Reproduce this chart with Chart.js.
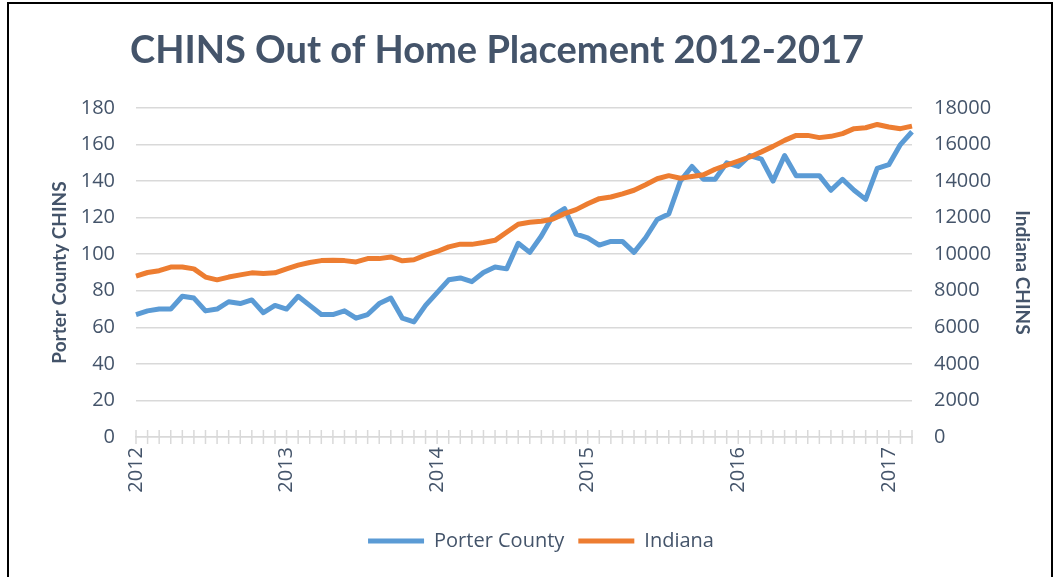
<!DOCTYPE html>
<html>
<head>
<meta charset="utf-8">
<script src="https://cdn.jsdelivr.net/npm/chart.js@4"></script>
<style>
  html, body { margin: 0; padding: 0; background: #fff; overflow: hidden; }
  #frame { position: absolute; left: 7px; top: 2px; width: 1042px; height: 600px; border: 2px solid #000; }
  #wrap { position: absolute; left: 0; top: 0; width: 1057px; height: 577px; }
</style>
</head>
<body>
<div id="frame"></div>
<div id="wrap"><canvas id="chins" width="1057" height="577"></canvas></div>
<script>
// year labels shown every 13 categories on the x axis
const yearLabels = ["2012", "2013", "2014", "2015", "2016", "2017"];
const labelEvery = 13;

// Porter County CHINS (left axis)
const porterCounty = [67, 69, 70, 70, 77, 76, 69, 70, 74, 73, 75, 68, 72, 70, 77, 72, 67, 67, 69, 65,
  67, 73, 76, 65, 63, 72, 79, 86, 87, 85, 90, 93, 92, 106, 101, 110, 121, 125, 111, 109,
  105, 107, 107, 101, 109, 119, 122, 140, 148, 141, 141, 150, 148, 154, 152, 140, 154, 143, 143, 143,
  135, 141, 135, 130, 147, 149, 160, 167];

// Indiana CHINS (right axis)
const indiana = [8800, 9000, 9100, 9300, 9300, 9200, 8750, 8600, 8750, 8870, 8980, 8950, 8980, 9200, 9400, 9550, 9650, 9670, 9650, 9580,
  9760, 9760, 9850, 9640, 9700, 9950, 10150, 10400, 10550, 10540, 10640, 10760, 11200, 11640, 11750, 11800, 11930, 12220, 12440, 12760,
  13040, 13130, 13300, 13500, 13800, 14130, 14300, 14160, 14250, 14350, 14650, 14880, 15100, 15320, 15600, 15900, 16230, 16500, 16500, 16380,
  16450, 16600, 16870, 16920, 17100, 16960, 16870, 17010];

const categories = porterCounty.map((v, i) => (i % labelEvery === 0 ? yearLabels[i / labelEvery] : ""));

const chartTitle = "CHINS Out of Home Placement 2012-2017";
const textColor = "#44546A";
const gridColor = "#D9D9D9";

// Excel-style "cross" tick marks on the category axis
const crossTicks = {
  id: "crossTicks",
  beforeDatasetsDraw(chart) {
    const x = chart.scales.x;
    const y0 = chart.chartArea.bottom;
    const ctx = chart.ctx;
    ctx.save();
    ctx.strokeStyle = gridColor;
    ctx.lineWidth = 1.5;
    for (let i = 0; i < x.ticks.length; i++) {
      const px = x.getPixelForTick(i);
      ctx.beginPath();
      ctx.moveTo(px, y0 - 7);
      ctx.lineTo(px, y0 + 7);
      ctx.stroke();
    }
    ctx.restore();
  }
};

// title sits a little left of centre, like the Excel original
const offsetTitle = {
  id: "offsetTitle",
  afterDraw(chart) {
    const ctx = chart.ctx;
    ctx.save();
    ctx.fillStyle = textColor;
    ctx.font = "bold 38px Lato";
    ctx.textAlign = "center";
    ctx.textBaseline = "middle";
    ctx.fillText(chartTitle, 497, 51);
    ctx.restore();
  }
};

new Chart("chins", {
  type: "line",
  data: {
    labels: categories,
    datasets: [{
      label: "Porter County",
      data: porterCounty,
      yAxisID: "y",
      borderColor: "#5B9BD5",
      backgroundColor: "#5B9BD5",
      borderWidth: 5,
      pointRadius: 0,
      tension: 0,
      borderJoinStyle: "round",
      order: 1
    }, {
      label: "Indiana",
      data: indiana,
      yAxisID: "y1",
      borderColor: "#ED7D31",
      backgroundColor: "#ED7D31",
      borderWidth: 5,
      pointRadius: 0,
      tension: 0,
      borderJoinStyle: "round",
      order: 0
    }]
  },
  options: {
    responsive: false,
    animation: false,
    layout: { padding: { left: 48, right: 23, top: 108, bottom: 16 } },
    plugins: {
      title: { display: false },
      legend: {
        position: "bottom",
        labels: {
          color: textColor,
          font: { family: "Open Sans", size: 20 },
          boxWidth: 56,
          boxHeight: 5,
          padding: 14,
          sort: (a, b) => a.datasetIndex - b.datasetIndex,
          generateLabels(chart) {
            const items = Chart.defaults.plugins.legend.labels.generateLabels(chart);
            items.forEach(it => { it.lineWidth = 0; });
            return items;
          }
        }
      },
      tooltip: { enabled: false }
    },
    scales: {
      x: {
        grid: { display: true, drawOnChartArea: false, drawTicks: false, color: gridColor },
        border: { display: true, color: gridColor, width: 1.5 },
        ticks: {
          color: textColor,
          font: { family: "Open Sans", size: 20 },
          autoSkip: false,
          maxRotation: 90,
          minRotation: 90,
          padding: 10
        },
        afterFit(scale) { scale.height = 80; }
      },
      y: {
        position: "left",
        min: 0,
        max: 180,
        ticks: { stepSize: 20, color: textColor, font: { family: "Open Sans", size: 20 }, padding: 21 },
        grid: { color: gridColor, lineWidth: 1.5, drawTicks: false },
        border: { display: false },
        title: {
          display: true,
          text: "Porter County CHINS",
          color: textColor,
          font: { family: "Lato", size: 19, weight: "bold" },
          padding: 0
        },
        afterFit(scale) { scale.width = 88; }
      },
      y1: {
        position: "right",
        min: 0,
        max: 18000,
        ticks: {
          stepSize: 2000,
          color: textColor,
          font: { family: "Open Sans", size: 20 },
          padding: 22,
          callback: v => String(v)
        },
        grid: { drawOnChartArea: false, drawTicks: false },
        border: { display: false },
        title: {
          display: true,
          text: "Indiana CHINS",
          color: textColor,
          font: { family: "Lato", size: 19, weight: "bold" },
          padding: 0
        },
        afterFit(scale) { scale.width = 122; }
      }
    }
  },
  plugins: [crossTicks, offsetTitle]
});
</script>
</body>
</html>
